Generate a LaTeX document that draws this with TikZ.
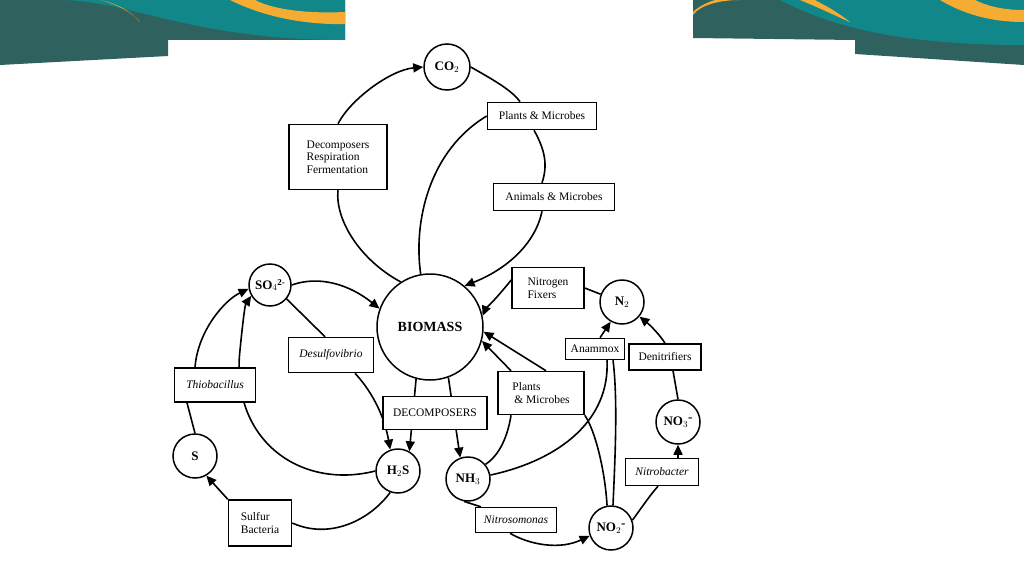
\documentclass[tikz,border=0pt]{standalone}
\usepackage{fontspec}
\setmainfont{Liberation Serif}
\usetikzlibrary{arrows.meta,backgrounds}
\definecolor{teal}{HTML}{12878A}
\definecolor{slate}{HTML}{2F625E}
\definecolor{gold}{HTML}{F5AC33}
\begin{document}
\begin{tikzpicture}[x=1pt,y=-1pt,
  box/.style={draw,fill=white,line width=1.5pt,inner sep=2pt,font=\fontsize{11.5}{12.5}\selectfont,align=left},
  ibox/.style={box,align=center,font=\itshape\fontsize{11.5}{12.5}\selectfont},
  cir/.style={draw,fill=white,circle,line width=1.5pt,minimum size=44pt,inner sep=0pt,font=\bfseries\fontsize{13}{14}\selectfont},
  ln/.style={line width=1.6pt},
  ar/.style={ln,-{Triangle[length=10pt,width=9pt]}}]
\useasboundingbox (0,0) rectangle (1024,575);
% nodes
\node[cir,minimum size=46pt] (co2) at (447,67) {CO$_2$};
\node[draw,fill=white,circle,line width=1.5pt,minimum size=106pt,font=\bfseries\fontsize{14}{15}\selectfont] (bio) at (430,327) {BIOMASS};
\node[cir,minimum size=42pt] (so4) at (270,285) {SO$_4$\raisebox{4pt}{\fontsize{9}{9}\selectfont 2-}};
\node[cir] (s) at (195,456) {S};
\node[cir] (h2s) at (398,471) {H$_2$S};
\node[cir] (nh3) at (468,479) {NH$_3$};
\node[cir] (n2) at (622,302) {N$_2$};
\node[cir] (no3) at (678,422) {NO$_3$\raisebox{4pt}{-}};
\node[cir] (no2) at (611,528) {NO$_2$\raisebox{4pt}{-}};
\node[box,minimum width=109pt,minimum height=27pt,align=center] (pm1) at (542,116) {Plants \& Microbes};
\node[box,minimum width=98pt,minimum height=65pt] (dec) at (338,157) {Decomposers\\Respiration\\Fermentation};
\node[box,minimum width=121pt,minimum height=27pt,align=center] (am) at (554,197) {Animals \& Microbes};
\node[ibox,minimum width=85pt,minimum height=35pt] (des) at (331,355) {Desulfovibrio};
\node[ibox,minimum width=81pt,minimum height=34pt] (thi) at (215,385) {Thiobacillus};
\node[box,minimum width=104pt,minimum height=33pt,align=center] (dcp) at (435,413) {DECOMPOSERS};
\node[box,minimum width=86pt,minimum height=43pt] (pm2) at (541,393) {Plants\\\,\& Microbes};
\node[box,minimum width=72pt,minimum height=41pt] (nf) at (548,288) {Nitrogen\\Fixers};
\node[box,minimum width=59pt,minimum height=21pt,align=center] (ana) at (595,349) {Anammox};
\node[box,minimum width=72pt,minimum height=26pt,align=center] (den) at (665,357) {Denitrifiers};
\node[ibox,minimum width=73pt,minimum height=27pt] (nbac) at (662,472) {Nitrobacter};
\node[ibox,minimum width=81pt,minimum height=25pt] (nsom) at (516,520) {Nitrosomonas};
\node[box,minimum width=63pt,minimum height=46pt] (sb) at (260,523) {Sulfur\\Bacteria};
\begin{pgfonlayer}{background}
\fill[white] (0,0) rectangle (1024,575);
% banners
\fill[slate] (0,0) -- (345,0) -- (345,40) -- (168,40) -- (168,56) -- (0,65) -- cycle;
\fill[teal] (60,0) .. controls (130,0) and (190,40) .. (345,40) -- (345,0) -- cycle;
\fill[gold] (100,0) .. controls (120,5) and (135,15) .. (140,22) .. controls (130,10) and (115,3) .. (100,0) -- cycle;
\fill[gold] (230,0) .. controls (260,15) and (300,25) .. (345,24) -- (345,12) .. controls (300,14) and (270,8) .. (255,0) -- cycle;
\fill[slate] (693,0) -- (1024,0) -- (1024,65) -- (855,54) -- (855,40) -- (693,38) -- cycle;
\fill[teal] (780,0) .. controls (820,20) and (880,45) .. (1024,45) -- (1024,0) -- cycle;
\fill[gold] (693,15) .. controls (700,5) and (720,0) .. (740,0) -- (715,0) .. controls (705,3) and (697,8) .. (693,12) -- cycle;
\fill[gold] (940,0) .. controls (970,18) and (1000,22) .. (1024,22) -- (1024,10) .. controls (1000,10) and (985,5) .. (975,0) -- cycle;
\fill[gold] (800,0) .. controls (820,8) and (840,18) .. (850,22) .. controls (835,10) and (820,3) .. (815,0) -- cycle;
% carbon
\draw[ln] (bio.123) .. controls (360,260) and (335,220) .. (dec.south);
\draw[ar] (dec.north) .. controls (350,100) and (390,70) .. (co2.west);
\draw[ln] (co2.east) .. controls (490,78) and (512,90) .. ([xshift=-22pt]pm1.north);
\draw[ln] ([xshift=-8pt]pm1.south) .. controls (545,150) and (548,165) .. ([xshift=-12pt]am.north);
\draw[ar] ([xshift=-12pt]am.south) .. controls (535,245) and (505,270) .. (bio.50);
\draw[ln] (pm1.west) .. controls (430,150) and (413,220) .. (bio.100);
% sulfur
\draw[ar] (so4.east) .. controls (320,275) and (350,285) .. (bio.160);
\draw[ln] (so4.-40) -- ([xshift=-6pt]des.north);
\draw[ar] ([xshift=24pt]des.south) .. controls (375,395) and (385,420) .. (h2s.110);
\draw[ar] (bio.-105) -- (h2s.60);
\draw[ar] (bio.-70) -- (nh3.110);
\draw[ar] (h2s.west) .. controls (300,490) and (230,440) .. (240,350) .. controls (243,320) and (245,305) .. (so4.-150);
\draw[ar] ([xshift=-20pt]thi.north) .. controls (198,330) and (225,300) .. (so4.-170);
\draw[ln] (s.north) -- ([xshift=-28pt]thi.south);
\draw[ln] (h2s.-110) .. controls (370,520) and (330,540) .. (sb.east);
\draw[ar] (sb.north west) -- (s.-60);
% nitrogen
\draw[ar] ([yshift=8pt]nf.west) .. controls (495,300) and (485,310) .. (bio.12);
\draw[ln] (n2.160) -- (nf.east);
\draw[ar] ([xshift=5pt]pm2.north) -- (bio.-5);
\draw[ar] ([xshift=-30pt]pm2.north) -- (bio.-15);
\draw[ln] (nh3.40) .. controls (500,455) and (508,435) .. ([xshift=-30pt]pm2.south);
\draw[ln] (nh3.10) .. controls (560,460) and (610,420) .. ([xshift=12pt]ana.south);
\draw[ar] ([xshift=5pt]ana.north) -- (n2.-120);
\draw[ln] (pm2.south east) .. controls (595,430) and (605,470) .. (no2.100);
\draw[ln] (no2.85) .. controls (615,460) and (618,400) .. ([xshift=18pt]ana.south);
\draw[ln] (nh3.-100) -- ([xshift=6pt]nsom.north west);
\draw[ar] ([xshift=-6pt]nsom.south) .. controls (530,545) and (560,550) .. (no2.-160);
\draw[ln] (no2.20) .. controls (640,510) and (650,495) .. ([xshift=-4pt]nbac.south);
\draw[ar] ([xshift=16pt]nbac.north) -- (no3.south);
\draw[ln] (no3.north) -- ([xshift=8pt]den.south);
\draw[ar] (den.north) .. controls (660,335) and (650,325) .. (n2.-40);
\end{pgfonlayer}
\end{tikzpicture}
\end{document}
